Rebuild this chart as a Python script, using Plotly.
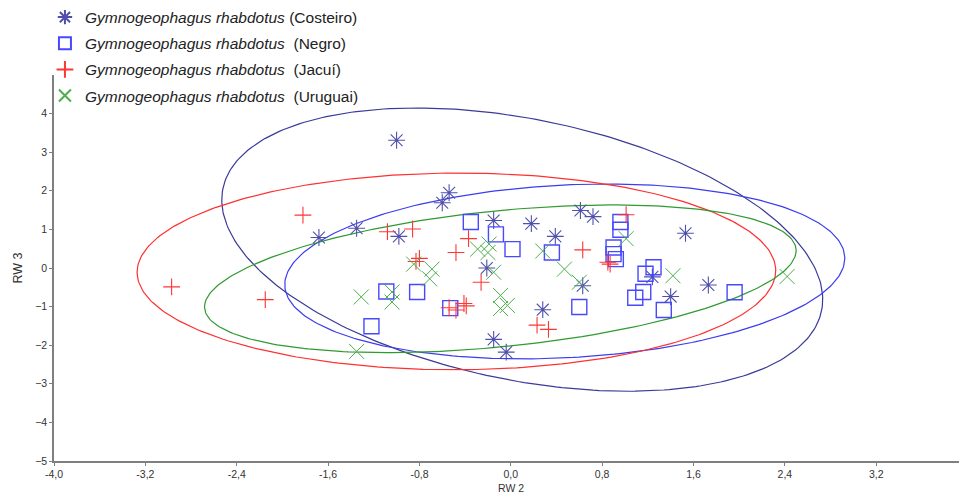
import numpy as np
import plotly.graph_objects as go

# RW2 / RW3 scores for each population of Gymnogeophagus rhabdotus
costeiro_rw2 = [-1.00, -0.54, -0.60, -1.68, -1.35, -0.98, -0.15, 0.18, 0.39, 0.61,
                0.72, -0.21, 0.63, 0.28, -0.15, -0.04, 1.53, 1.24, 1.40, 1.73]
costeiro_rw3 = [3.31, 1.95, 1.69, 0.79, 1.03, 0.82, 1.23, 1.15, 0.82, 1.49,
                1.33, 0.00, -0.46, -1.08, -1.85, -2.18, 0.90, -0.23, -0.74, -0.44]

negro_rw2 = [-0.35, -0.13, 0.015, -1.09, -0.82, -0.53, -1.22, 0.36, 0.60, 0.96,
             0.96, 0.90, 0.90, 0.92, 1.25, 1.18, 1.16, 1.09, 1.34, 1.96]
negro_rw3 = [1.19, 0.87, 0.49, -0.61, -0.62, -1.04, -1.51, 0.40, -1.01, 1.19,
             0.99, 0.53, 0.36, 0.23, 0.02, -0.15, -0.62, -0.77, -1.09, -0.63]

jacui_rw2 = [-2.97, -2.15, -1.82, -1.08, -0.86, -0.80, -0.83, -0.37, -0.48, -0.26,
             -0.54, -0.48, -0.39, -0.41, 0.23, 0.33, 0.63, 1.01, 0.85, 0.87]
jacui_rw3 = [-0.49, -0.82, 1.37, 0.94, 1.01, 0.25, 0.17, 0.76, 0.40, -0.37,
             -1.03, -1.09, -0.98, -0.92, -1.48, -1.59, 0.47, 1.38, 0.15, 0.10]

uruguai_rw2 = [-1.31, -1.04, -1.04, -0.85, -0.69, -0.71, -0.29, -0.19, -0.20, -0.15,
               -0.09, -0.03, -0.09, 0.28, 0.47, 0.60, 1.01, 1.42, 2.42, -1.35]
uruguai_rw3 = [-0.75, -0.62, -0.88, 0.10, -0.03, -0.28, 0.49, 0.62, 0.40, -0.11,
               -0.71, -0.97, -1.05, 0.44, -0.03, -0.37, 0.76, -0.20, -0.22, -2.16]

group_names = ["Costeiro", "Negro", "Jacuí", "Uruguai"]

x_tickvals = [-4.0, -3.2, -2.4, -1.6, -0.8, 0.0, 0.8, 1.6, 2.4, 3.2]
x_ticktext = ["-4,0", "-3,2", "-2,4", "-1,6", "-0,8", "0,0", "0,8", "1,6", "2,4", "3,2"]
y_tickvals = [-5, -4, -3, -2, -1, 0, 1, 2, 3, 4]

FONT = "Liberation Sans, Arial, sans-serif"


def ellipse_95(x, y, npts=300):
    """95% ellipse from the group's covariance (Hotelling / F based scaling)."""
    x = np.asarray(x, float)
    y = np.asarray(y, float)
    n = len(x)
    m = n - 2
    f95 = (m / 2.0) * (0.05 ** (-2.0 / m) - 1.0)  # F(0.95; 2, n-2)
    c = 2.0 * (n - 1) / (n - 2) * f95
    cov = np.cov(np.vstack([x, y]))
    vals, vecs = np.linalg.eigh(cov)
    t = np.linspace(0, 2 * np.pi, npts)
    circle = np.vstack([np.cos(t), np.sin(t)])
    pts = vecs @ (np.sqrt(vals * c)[:, None] * circle)
    return x.mean() + pts[0], y.mean() + pts[1]


groups = [
    dict(x=costeiro_rw2, y=costeiro_rw3, name=group_names[0], sep=" ",
         symbol="asterisk-open", size=14, mcolor="#5050ac", ecolor="#3a3a98", mwidth=1.1),
    dict(x=negro_rw2, y=negro_rw3, name=group_names[1], sep="  ",
         symbol="square-open", size=15, mcolor="#4848ff", ecolor="#3c3cf0", mwidth=1.4),
    dict(x=jacui_rw2, y=jacui_rw3, name=group_names[2], sep="  ",
         symbol="cross-thin-open", size=12, mcolor="#ff3434", ecolor="#ff3030", mwidth=1.1),
    dict(x=uruguai_rw2, y=uruguai_rw3, name=group_names[3], sep="  ",
         symbol="x-thin-open", size=15, mcolor="#4caf4c", ecolor="#2f9a2f", mwidth=1.0),
]

fig = go.Figure()

for g in groups:
    ex, ey = ellipse_95(g["x"], g["y"])
    fig.add_trace(go.Scatter(
        x=ex, y=ey, mode="lines", line=dict(color=g["ecolor"], width=1.2),
        showlegend=False, hoverinfo="skip"))

for g in groups:
    fig.add_trace(go.Scatter(
        x=g["x"], y=g["y"], mode="markers",
        name="<i>Gymnogeophagus rhabdotus</i>" + g["sep"] + "(" + g["name"] + ")",
        legendgroup=g["name"],
        marker=dict(symbol=g["symbol"], size=g["size"],
                    line=dict(color=g["mcolor"], width=g["mwidth"]),
                    color=g["mcolor"])))

axis_common = dict(
    showgrid=False, zeroline=False, showline=True, linecolor="#7f7f7f", linewidth=1.5,
    ticks="outside", ticklen=3, tickcolor="#7f7f7f", tickwidth=1,
    tickfont=dict(family=FONT, size=10.5, color="#333333"),
    mirror=False,
)

fig.update_layout(
    width=959, height=495,
    margin=dict(l=54, r=0, t=73, b=34),
    paper_bgcolor="white", plot_bgcolor="white",
    font=dict(family=FONT, color="#222222"),
    xaxis=dict(range=[-4.0, 3.925], tickvals=x_tickvals, ticktext=x_ticktext,
               **axis_common),
    yaxis=dict(range=[-5.0, 5.0], tickvals=y_tickvals,
               title=dict(text="RW 3", font=dict(family=FONT, size=12.5, color="#333333"),
                          standoff=10),
               **axis_common),
    legend=dict(x=-0.010, y=1.193, xanchor="left", yanchor="top",
                font=dict(family=FONT, size=15.5, color="#222222"),
                bgcolor="rgba(0,0,0,0)", tracegroupgap=3, itemsizing="constant"),
    showlegend=True,
)

# x-axis title sits right under the "0,0" tick label
fig.add_annotation(
    text="RW 2", x=0.0, xref="x", y=0, yref="paper",
    xanchor="center", yanchor="top", yshift=-20, showarrow=False, borderpad=0,
    font=dict(family=FONT, size=10.5, color="#333333"))

fig.write_html("out.html")
